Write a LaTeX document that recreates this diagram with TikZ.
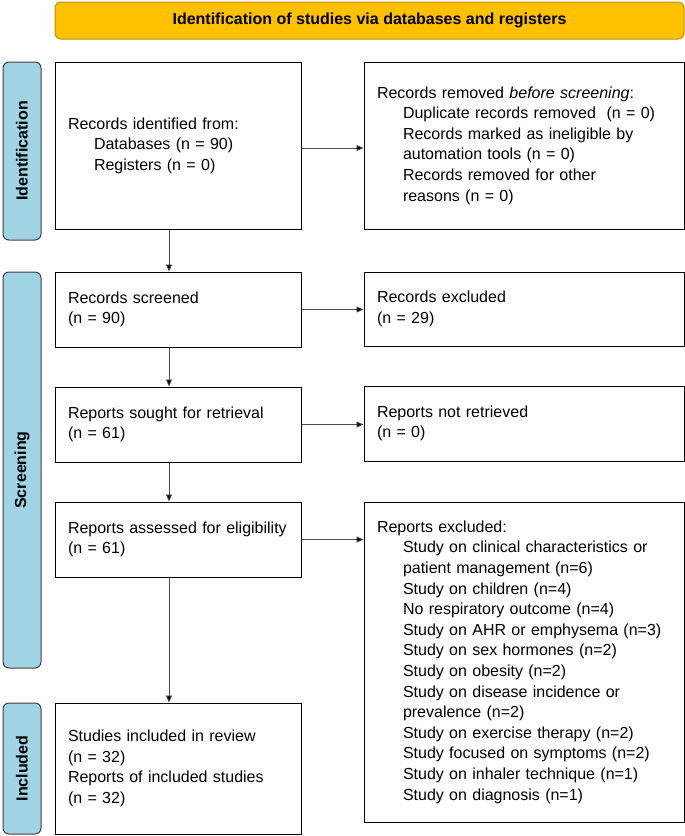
\documentclass[tikz,border=0pt]{standalone}
\usepackage{fontspec}
\setmainfont{Liberation Sans}
\usetikzlibrary{arrows.meta}
\definecolor{bannergold}{HTML}{FFC000}
\definecolor{bannerrim}{HTML}{BF9000}
\definecolor{sideblue}{RGB}{160,212,228}

\begin{document}
\begin{tikzpicture}[x=1pt, y=1pt,
			box/.style={
				draw,
				line width = 1pt,
				inner xsep = 13pt,
				align = left,
				font = \fontsize{16}{20.6}\selectfont},
			side/.style={
				draw = black!75,
				fill = sideblue,
				line width = 1pt,
				rounded corners = 6pt,
				rotate = 90,
				minimum height = 38pt,
				font = \fontsize{16}{19}\selectfont\bfseries},
			arr/.style={
				draw = black!70,
				line width = 0.8pt,
				-{Triangle[length=7pt, width=6pt, fill=black]}}]
			\useasboundingbox (0, 0) rectangle (685, -836);
			% banner and phase bars
			\node (banner) at (369.5, -20.5) [draw = bannerrim, fill = bannergold, line width = 1pt,
				rounded corners = 6pt, minimum width = 629, minimum height = 37,
				font = \fontsize{16}{19}\selectfont\bfseries] {Identification of studies via databases and registers};
			\node (sideident) at (22, -151) [side, minimum width = 178] {Identification};
			\node (sidescreen) at (22, -470) [side, minimum width = 396] {Screening};
			\node (sideincl) at (22, -768.5) [side, minimum width = 131] {Included};
			% left column
			\node (ident) at (178, -145.5) [box, minimum width = 246, minimum height = 167, text width = 220] {Records identified from:\\
				\hspace*{26pt}Databases (n = 90)\\
				\hspace*{26pt}Registers (n = 0)};
			\node (screened) at (178, -309.5) [box, minimum width = 246, minimum height = 75, text width = 220] {Records screened\\(n = 90)};
			\node (sought) at (178, -424.5) [box, minimum width = 246, minimum height = 75, text width = 220] {Reports sought for retrieval\\(n = 61)};
			\node (assessed) at (178, -539.5) [box, minimum width = 246, minimum height = 75, text width = 220] {Reports assessed for eligibility\\(n = 61)};
			\node (included) at (178, -768.5) [box, minimum width = 246, minimum height = 131, text width = 220] {Studies included in review\\(n = 32)\\Reports of included studies\\(n = 32)};
			% right column
			\node (removed) at (524, -145.5) [box, minimum width = 320, minimum height = 167, text width = 294] {Records removed \textit{before screening}:\\
				\hspace*{26pt}Duplicate records removed~~(n = 0)\\
				\hspace*{26pt}Records marked as ineligible by\\
				\hspace*{26pt}automation tools (n = 0)\\
				\hspace*{26pt}Records removed for other\\
				\hspace*{26pt}reasons (n = 0)};
			\node (excluded) at (524, -309) [box, minimum width = 320, minimum height = 74, text width = 294] {Records excluded\\(n = 29)};
			\node (notretr) at (524, -423.5) [box, minimum width = 320, minimum height = 75, text width = 294] {Reports not retrieved\\(n = 0)};
			\node (repexcl) at (524, -662) [box, minimum width = 320, minimum height = 320, text width = 294] {Reports excluded:\\
				\hspace*{26pt}Study on clinical characteristics or\\
				\hspace*{26pt}patient management (n=6)\\
				\hspace*{26pt}Study on children (n=4)\\
				\hspace*{26pt}No respiratory outcome (n=4)\\
				\hspace*{26pt}Study on AHR or emphysema (n=3)\\
				\hspace*{26pt}Study on sex hormones (n=2)\\
				\hspace*{26pt}Study on obesity (n=2)\\
				\hspace*{26pt}Study on disease incidence or\\
				\hspace*{26pt}prevalence (n=2)\\
				\hspace*{26pt}Study on exercise therapy (n=2)\\
				\hspace*{26pt}Study focused on symptoms (n=2)\\
				\hspace*{26pt}Study on inhaler technique (n=1)\\
				\hspace*{26pt}Study on diagnosis (n=1)};
			% connectors
			\draw[arr] ([xshift = -9pt]ident.south) -- ([xshift = -9pt]screened.north);
			\draw[arr] ([xshift = -9pt]screened.south) -- ([xshift = -9pt]sought.north);
			\draw[arr] ([xshift = -9pt]sought.south) -- ([xshift = -9pt]assessed.north);
			\draw[arr] ([xshift = -9pt]assessed.south) -- ([xshift = -9pt]included.north);
			\draw[arr] ([yshift = -2.5pt]ident.east) -- ([yshift = -2.5pt]ident.east -| removed.west);
			\draw[arr] (screened.east) -- (screened.east -| excluded.west);
			\draw[arr] (sought.east) -- (sought.east -| notretr.west);
			\draw[arr] (assessed.east) -- (assessed.east -| repexcl.west);
			\end{tikzpicture}
\end{document}
